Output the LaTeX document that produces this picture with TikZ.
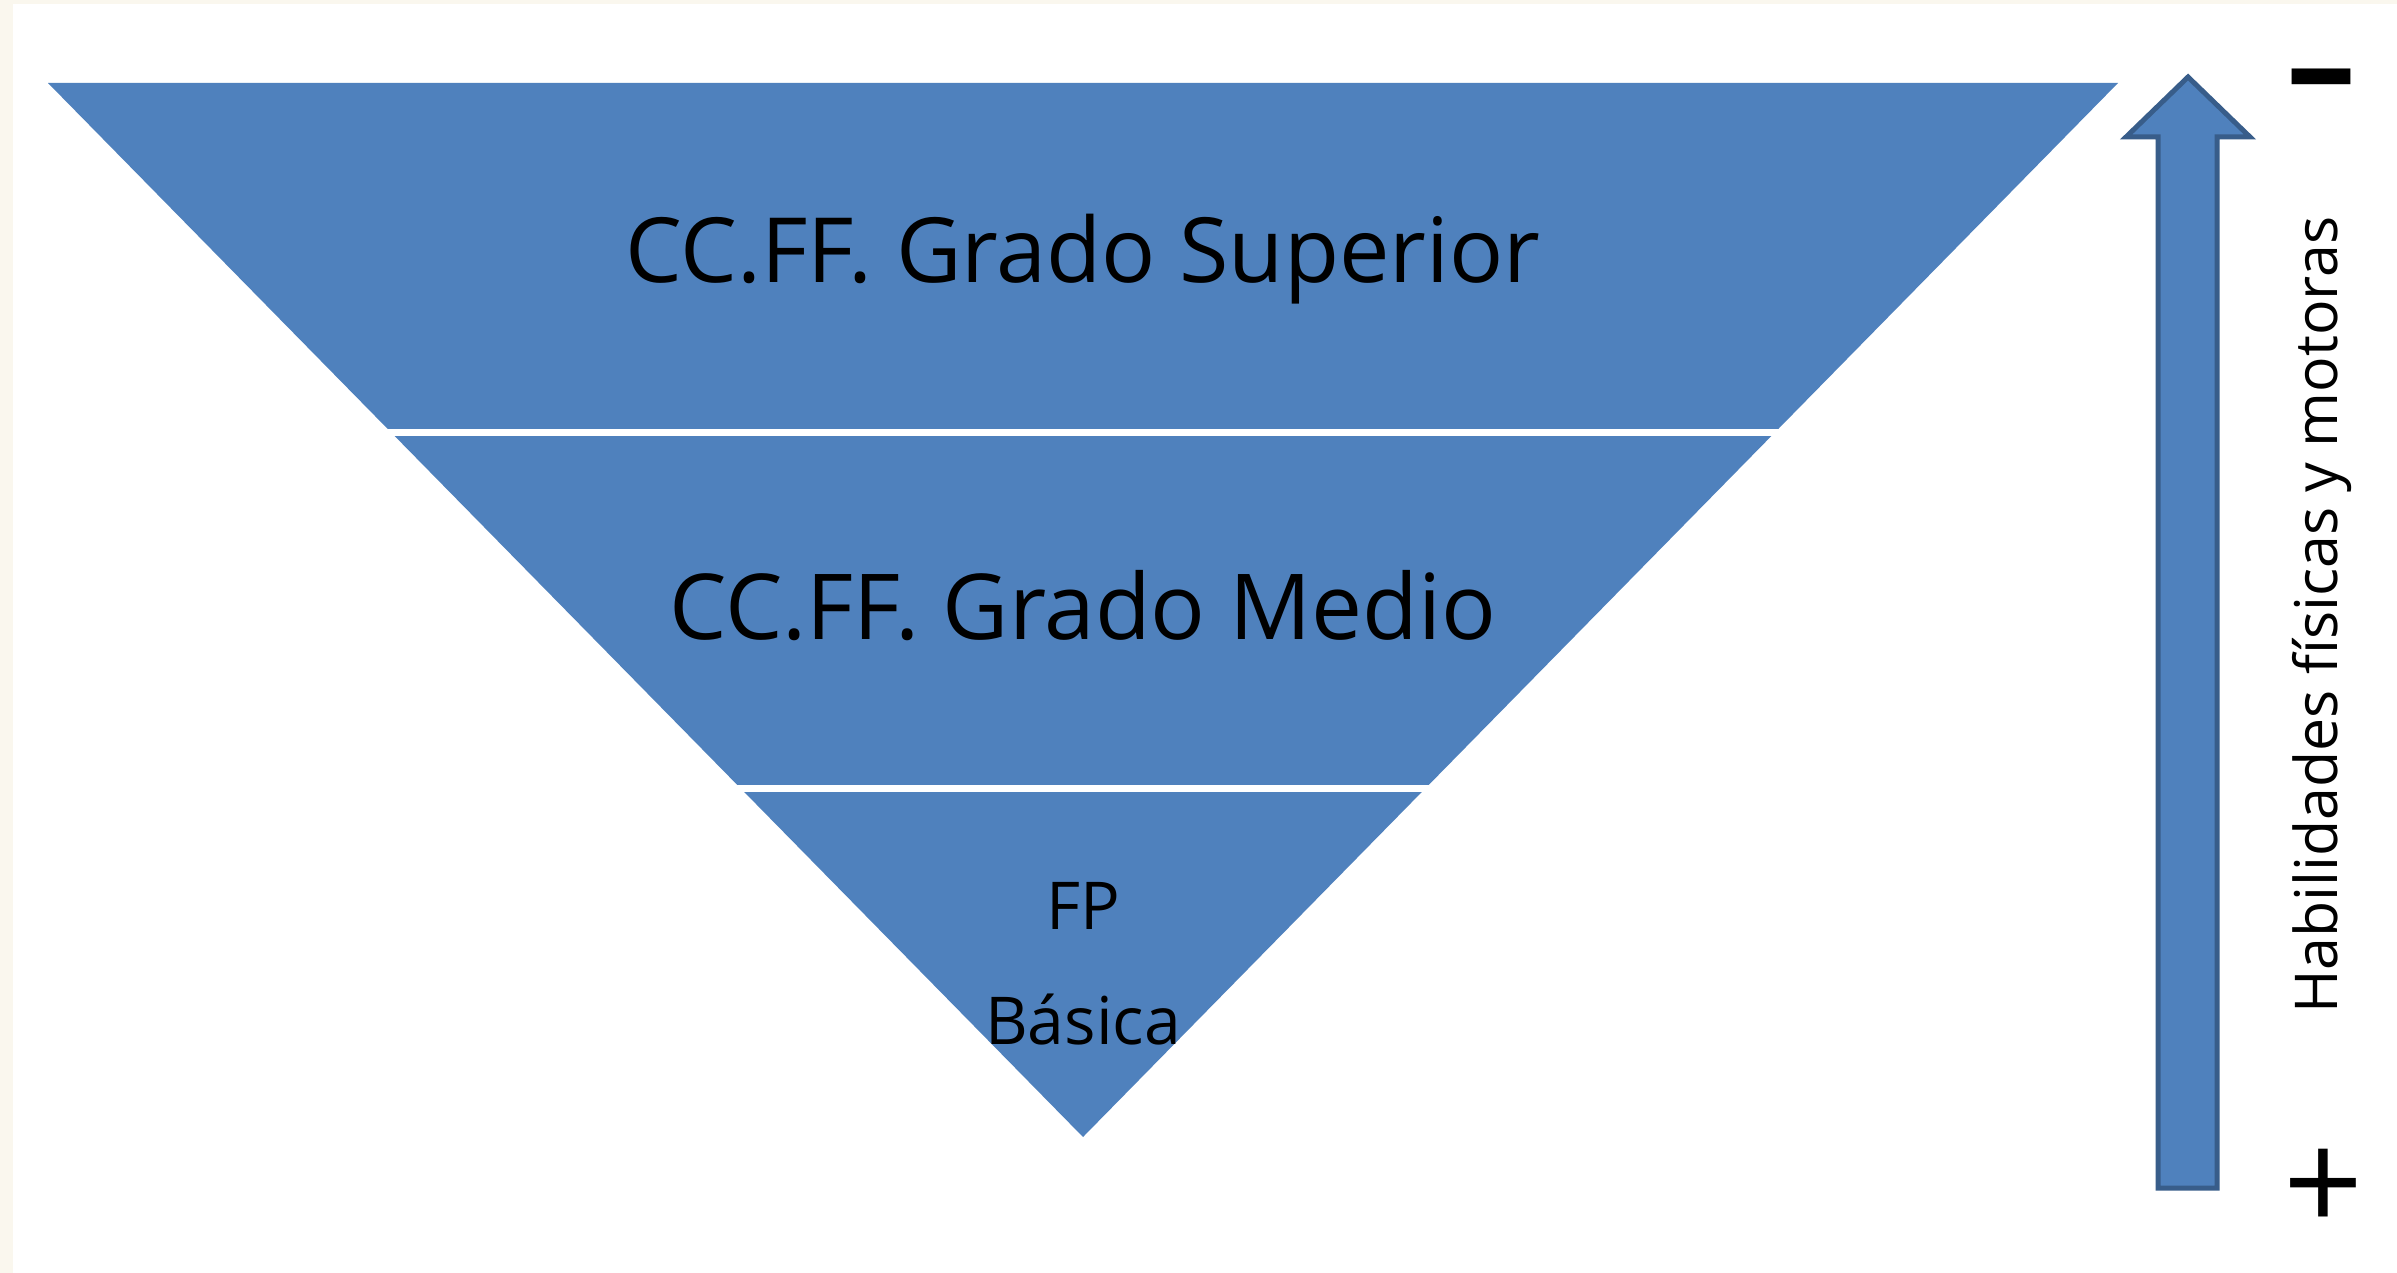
\documentclass[tikz,border=0pt]{standalone}
\usepackage{fontspec}
\setmainfont{Open Sans}
\definecolor{bgcream}{HTML}{FAF7EE}
\definecolor{officeblue}{HTML}{4F81BD}
\definecolor{officeline}{HTML}{385D8A}
\begin{document}
\begin{tikzpicture}[x=1pt,y=-1pt,
  bigtext/.style={anchor=base,inner sep=0pt,font=\fontsize{90}{100}\selectfont},
  smalltext/.style={anchor=base,inner sep=0pt,align=center,font=\fontsize{66}{115}\selectfont},
  sidetext/.style={anchor=base,inner sep=0pt,rotate=90,font=\fontsize{59}{66}\selectfont},
  signtext/.style={inner sep=0pt,font=\fontsize{140}{150}\selectfont},
  gapline/.style={draw=white,line width=7pt},
  arrowshape/.style={fill=officeblue,draw=officeline,line width=5pt,line join=miter}]
\useasboundingbox (0,0) rectangle (2397,1273);
\fill[bgcream] (0,0) rectangle (2397,1273);
\fill[white] (13,4) rectangle (2397,1273);
% inverted pyramid
\fill[officeblue] (48,83) -- (2118,83) -- (1083,1137) -- cycle;
\coordinate (g1l) at (300,432.5);
\coordinate (g1r) at (1900,432.5);
\coordinate (g2l) at (600,788.5);
\coordinate (g2r) at (1600,788.5);
\draw[gapline] (g1l) -- (g1r);
\draw[gapline] (g2l) -- (g2r);
\node[bigtext] (sup) at (1083,283) {CC.FF. Grado Superior};
\node[bigtext,font=\fontsize{91}{100}\selectfont] (med) at (1083,639) {CC.FF. Grado Medio};
\node[smalltext] (fpb) at (1083,1044) {FP\\Básica};
% arrow
\draw[arrowshape] (2158,1188) -- (2158,137) -- (2126,137) -- (2188,77) -- (2250,137) -- (2217,137) -- (2217,1188) -- cycle;
\node[sidetext] (hab) at (2337,615) {Habilidades físicas y motoras};
\node[signtext] (minus) at (2321,92) {\bfseries –};
\node[signtext] (plus) at (2323,1191) {+};
\end{tikzpicture}
\end{document}
